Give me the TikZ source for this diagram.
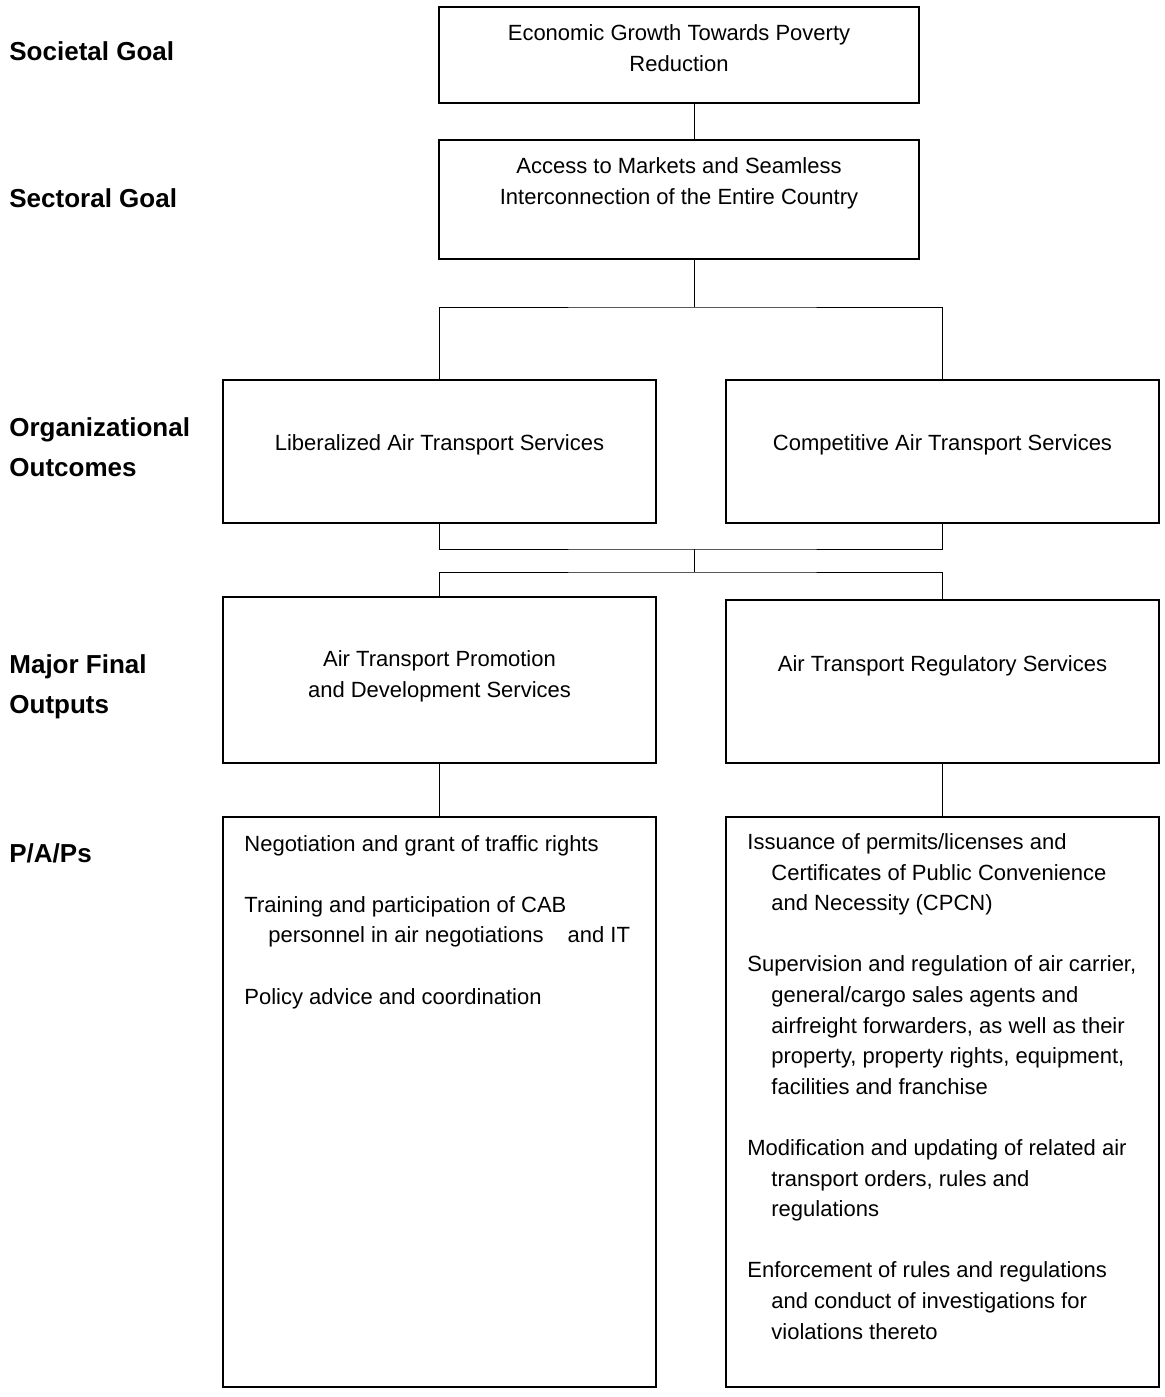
\documentclass[tikz,border=0pt]{standalone}
\usepackage{fontspec}
\setmainfont{Liberation Sans}
\usepackage{tikz}
\usetikzlibrary{positioning}
\tikzstyle{box} = [rectangle, draw=black, line width=0.9pt, anchor=north west, inner sep=0pt, outer sep=0pt]
\tikzstyle{boxtext} = [anchor=base, align=center, inner sep=0pt, font=\fontsize{11}{15.3}\selectfont]
\tikzstyle{listtext} = [anchor=base west, align=left, inner sep=0pt, font=\fontsize{11}{15.3}\selectfont]
\tikzstyle{level} = [anchor=base west, align=left, inner sep=0pt, font=\fontsize{13}{20}\selectfont\bfseries]
\tikzstyle{line} = [line width=0.5pt]

\begin{document}
\begin{tikzpicture}[x=0.5pt, y=-0.5pt]

\path [use as bounding box, fill=white] (0,0) rectangle (1164,1397);

\node (goal) [box, minimum width=240pt, minimum height=48pt] at (439,7) {};
\node (sector) [box, minimum width=240pt, minimum height=59.5pt] at (439,140) {};
\node (outL) [box, minimum width=216.5pt, minimum height=71.5pt] at (223,380) {};
\node (outR) [box, minimum width=216.5pt, minimum height=71.5pt] at (726,380) {};
\node (mfoL) [box, minimum width=216.5pt, minimum height=83pt] at (223,597) {};
\node (mfoR) [box, minimum width=216.5pt, minimum height=81.5pt] at (726,600) {};
\node (papL) [box, minimum width=216.5pt, minimum height=285pt] at (223,817) {};
\node (papR) [box, minimum width=216.5pt, minimum height=285pt] at (726,817) {};

\node (goaltxt) [boxtext] at ([yshift=-32pt]goal.north) {Economic Growth Towards Poverty\\Reduction};
\node (sectortxt) [boxtext] at ([yshift=-32pt]sector.north) {Access to Markets and Seamless\\Interconnection of the Entire Country};
\node (outLtxt) [boxtext] at ([yshift=-35pt]outL.north) {Liberalized Air Transport Services};
\node (outRtxt) [boxtext] at ([yshift=-35pt]outR.north) {Competitive Air Transport Services};
\node (mfoLtxt) [boxtext] at ([yshift=-50pt]mfoL.north) {Air Transport Promotion\\and Development Services};
\node (mfoRtxt) [boxtext] at ([yshift=-35.5pt]mfoR.north) {Air Transport Regulatory Services};
\node (papLtxt) [listtext] at ([xshift=10.5pt, yshift=-93.5pt]papL.north west) {Negotiation and grant of traffic rights\\[15.3pt]
Training and participation of CAB\\
\hspace*{12pt}personnel in air negotiations \hspace{9pt}and IT\\[15.3pt]
Policy advice and coordination};
\node (papRtxt) [listtext] at ([xshift=10.5pt, yshift=-261pt]papR.north west) {Issuance of permits/licenses and\\
\hspace*{12pt}Certificates of Public Convenience\\
\hspace*{12pt}and Necessity (CPCN)\\[15.3pt]
Supervision and regulation of air carrier,\\
\hspace*{12pt}general/cargo sales agents and\\
\hspace*{12pt}airfreight forwarders, as well as their\\
\hspace*{12pt}property, property rights, equipment,\\
\hspace*{12pt}facilities and franchise\\[15.3pt]
Modification and updating of related air\\
\hspace*{12pt}transport orders, rules and\\
\hspace*{12pt}regulations\\[15.3pt]
Enforcement of rules and regulations\\
\hspace*{12pt}and conduct of investigations for\\
\hspace*{12pt}violations thereto};

\node (lblsoc) [level] at (9,60) {Societal Goal};
\node (lblsec) [level] at (9,207) {Sectoral Goal};
\node (lblorg) [level] at (9,476) {Organizational\\Outcomes};
\node (lblmfo) [level] at (9,713) {Major Final\\Outputs};
\node (lblpap) [level] at (9,862) {P/A/Ps};

\coordinate (split1) at (694,307);
\coordinate (merge) at (694,549);
\coordinate (split2) at (694,572);

\draw [line] ([xshift=7.5pt]goal.south) -- ([xshift=7.5pt]sector.north);
\draw [line] ([xshift=7.5pt]sector.south) -- (split1);
\draw [line] (outL.north) |- (split1) -| (outR.north);
\draw [line] (outL.south) |- (merge) -| (outR.south);
\draw [line] (merge) -- (split2);
\draw [line] (mfoL.north) |- (split2) -| (mfoR.north);
\draw [line] (mfoL.south) -- (papL.north);
\draw [line] (mfoR.south) -- (papR.north);

\end{tikzpicture}
\end{document}
